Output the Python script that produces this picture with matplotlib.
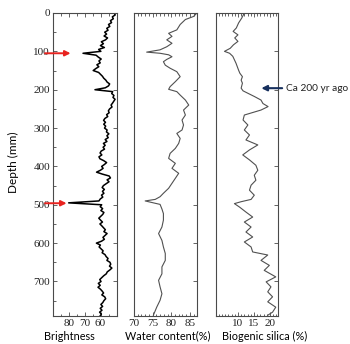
import matplotlib
matplotlib.use("Agg")
import matplotlib.pyplot as plt
from matplotlib.ticker import MultipleLocator

# ---------------- data ----------------
bright_depth = list(range(0, 795, 5))
bright_vals = [
    51.5, 50.8, 52.6, 52.0, 53.8, 53.1, 55.0, 54.2, 56.1, 55.3,
    57.4, 56.2, 57.8, 55.6, 56.9, 59.5, 58.2, 60.1, 57.6, 61.2,
    59.8, 71.0, 62.8, 61.4, 59.6, 61.0, 60.2, 62.3, 61.1, 63.0,
    64.6, 61.2, 60.0, 58.8, 58.0, 56.7, 55.9, 54.3, 55.0, 57.0,
    63.5, 52.4, 53.0, 51.6, 52.2, 50.9, 51.7, 52.5, 53.4, 52.8,
    54.3, 55.1, 54.6, 56.2, 55.5, 57.3, 58.1, 56.9, 58.0, 56.8,
    57.5, 55.9, 56.3, 54.8, 56.0, 55.2, 57.1, 56.0, 58.2, 57.1,
    58.4, 57.5, 59.6, 60.3, 59.2, 61.0, 60.4, 58.0, 56.2, 57.6,
    59.3, 58.4, 60.1, 62.5, 58.9, 54.6, 53.8, 55.9, 54.7, 56.4,
    58.2, 59.0, 57.6, 58.8, 57.9, 59.4, 58.6, 60.2, 61.0, 80.0,
    59.3, 60.2, 58.7, 59.8, 57.9, 58.6, 59.9, 61.1, 60.0, 58.8,
    60.4, 59.2, 58.1, 57.0, 57.9, 55.9, 57.2, 58.5, 57.6, 59.4,
    62.6, 60.1, 60.9, 59.6, 58.4, 59.0, 57.2, 56.5, 55.3, 56.0,
    54.1, 53.6, 54.4, 52.9, 54.2, 55.8, 56.4, 58.0, 59.3, 60.5,
    59.7, 61.4, 60.2, 61.6, 60.1, 59.0, 58.1, 59.2, 57.4, 56.8,
    57.9, 58.6, 59.8, 58.7, 60.2, 59.1, 60.6, 59.5, 60.3,
]

water_depth = [0, 9, 17, 30, 44, 53, 61, 70, 79, 88,
               96, 102, 105, 109, 114, 121, 127, 136, 144, 153,
               166, 179, 192, 199, 205, 214, 227, 240, 253, 266,
               279, 292, 305, 314, 327, 340, 353, 366, 379, 392,
               405, 418, 431, 444, 457, 470, 479, 486, 490, 495,
               499, 511, 523, 540, 558, 575, 593, 610, 627, 645,
               662, 680, 697, 714, 732, 749, 767, 788]
water_vals = [86.9, 86.0, 83.8, 82.4, 81.5, 79.3, 80.2, 78.8, 80.2, 78.8,
              77.0, 73.4, 77.0, 79.3, 80.2, 78.8, 77.9, 78.4, 79.7, 81.5,
              82.4, 81.1, 79.7, 79.3, 81.5, 82.4, 83.8, 84.7, 83.3, 83.8,
              82.9, 83.3, 82.9, 81.5, 82.4, 82.0, 81.1, 79.7, 79.3, 81.1,
              80.2, 82.0, 81.1, 80.2, 79.3, 77.9, 77.0, 75.7, 73.0, 75.2,
              77.0, 77.5, 77.9, 77.9, 77.5, 76.6, 77.5, 77.9, 78.4, 78.4,
              77.5, 77.5, 76.6, 77.0, 77.5, 77.0, 76.1, 75.2]

silica_depth = [0, 13, 26, 39, 48, 57, 65, 74, 83, 92,
                100, 105, 113, 122, 131, 140, 149, 157, 166, 175,
                183, 196, 203, 218, 227, 236, 244, 253, 266, 279,
                292, 305, 318, 331, 344, 357, 370, 383, 397, 410,
                423, 436, 449, 462, 475, 486, 492, 497, 506, 519,
                532, 545, 558, 571, 584, 597, 610, 623, 631, 645,
                658, 671, 688, 701, 714, 727, 740, 753, 767, 780, 788]
silica_vals = [12.0, 11.2, 10.2, 9.5, 8.5, 10.0, 9.0, 10.0, 8.6, 7.6,
               5.8, 7.4, 8.4, 8.9, 9.4, 9.8, 10.2, 10.6, 11.4, 11.0,
               11.4, 11.0, 11.6, 15.2, 17.2, 17.8, 19.4, 17.2, 12.0, 11.6,
               13.1, 12.0, 13.6, 12.5, 16.2, 13.6, 11.5, 13.6, 15.6, 16.2,
               15.1, 15.6, 14.1, 13.6, 15.1, 14.1, 11.0, 8.9, 10.5, 12.5,
               14.6, 12.0, 14.1, 12.5, 14.6, 12.0, 14.1, 14.6, 19.3, 17.2,
               19.8, 18.2, 21.8, 18.8, 20.3, 19.3, 20.8, 19.3, 21.8, 20.8, 19.3]

depth_ticks = [0, 100, 200, 300, 400, 500, 600, 700]
bright_ticks = [80, 70, 60]
water_ticks = [70, 75, 80, 85]
silica_ticks = [10, 15, 20]
red_arrow_depths = [105, 496]
event_depth = 196
event_label = "Ca 200 yr ago"

# ---------------- figure ----------------
fig = plt.figure(figsize=(3.5, 3.44), dpi=100)
W, H = 350.0, 344.0
top, bottom = 13.0, 316.0

def add_ax(x0, x1):
    return fig.add_axes([x0 / W, 1 - bottom / H, (x1 - x0) / W, (bottom - top) / H])

ax1 = add_ax(52.7, 116.5)
ax2 = add_ax(134.0, 197.3)
ax3 = add_ax(215.5, 278.0)

serif = "Liberation Serif"
sans = "Lato"
spine_col = "#4a4a4a"

for ax in (ax1, ax2, ax3):
    ax.set_ylim(790, 0)
    for s in ax.spines.values():
        s.set_color(spine_col)
        s.set_linewidth(0.8)
    ax.tick_params(which="both", direction="in", colors=spine_col,
                   labelcolor="#222222", width=0.6)
    ax.tick_params(which="major", length=3, labelsize=8, pad=2)
    ax.tick_params(which="minor", length=1.8)
    ax.set_yticks(depth_ticks)

# panel 1
ax1.plot(bright_vals, bright_depth, color="black", lw=1.1)
ax1.set_xlim(90, 50)
ax1.set_xticks(bright_ticks)
ax1.xaxis.set_minor_locator(MultipleLocator(5))
ax1.yaxis.set_minor_locator(MultipleLocator(50))
ax1.tick_params(axis="x", which="both", top=True)
ax1.tick_params(axis="y", which="major", right=True)
ax1.set_yticklabels([str(t) for t in depth_ticks], fontfamily=serif)
ax1.set_xticklabels([str(t) for t in bright_ticks], fontfamily=serif)

# panel 2
ax2.plot(water_vals, water_depth, color="#505050", lw=0.8)
ax2.set_xlim(70, 87)
ax2.set_xticks(water_ticks)
ax2.set_xticklabels([str(t) for t in water_ticks], fontfamily=serif)
ax2.xaxis.set_minor_locator(MultipleLocator(1))
ax2.tick_params(axis="x", which="both", top=True)
ax2.tick_params(axis="y", which="major", left=False, right=True, labelleft=False)

# panel 3
ax3.plot(silica_vals, silica_depth, color="#505050", lw=0.8)
ax3.set_xlim(3, 22.5)
ax3.set_xticks(silica_ticks)
ax3.set_xticklabels([str(t) for t in silica_ticks], fontfamily=serif)
ax3.xaxis.set_minor_locator(MultipleLocator(1))
ax3.tick_params(axis="x", which="both", top=True)
ax3.tick_params(axis="y", which="major", left=False, right=True, labelleft=False)

# axis labels
fig.text(13 / W, 1 - 162 / H, "Depth (mm)", rotation=90, ha="center", va="center",
         fontsize=8.5, fontfamily=sans)
fig.text(69 / W, 1 - 336 / H, "Brightness", ha="center", va="center",
         fontsize=7.8, fontfamily=sans)
fig.text(168 / W, 1 - 336 / H, "Water content(%)", ha="center", va="center",
         fontsize=7.8, fontfamily=sans)
fig.text(265 / W, 1 - 336 / H, "Biogenic silica (%)", ha="center", va="center",
         fontsize=7.8, fontfamily=sans)

# red arrows
for d, head in zip(red_arrow_depths, [78.8, 81.3]):
    ax1.annotate("", xy=(head, d), xytext=(94.8, d), xycoords="data",
                 annotation_clip=False,
                 arrowprops=dict(arrowstyle="-|>", color="#e8231f", lw=1.4,
                                 mutation_scale=8, shrinkA=0, shrinkB=0))

# event arrow
ax3.annotate("", xy=(17.3, event_depth), xytext=(23.8, event_depth),
             annotation_clip=False,
             arrowprops=dict(arrowstyle="-|>", color="#17305e", lw=1.5,
                             mutation_scale=8, shrinkA=0, shrinkB=0))
ax3.text(25.0, event_depth, event_label, ha="left", va="center", fontsize=7.3,
         fontfamily=sans, color="#222222", clip_on=False)

fig.savefig("out.png", dpi=100)
